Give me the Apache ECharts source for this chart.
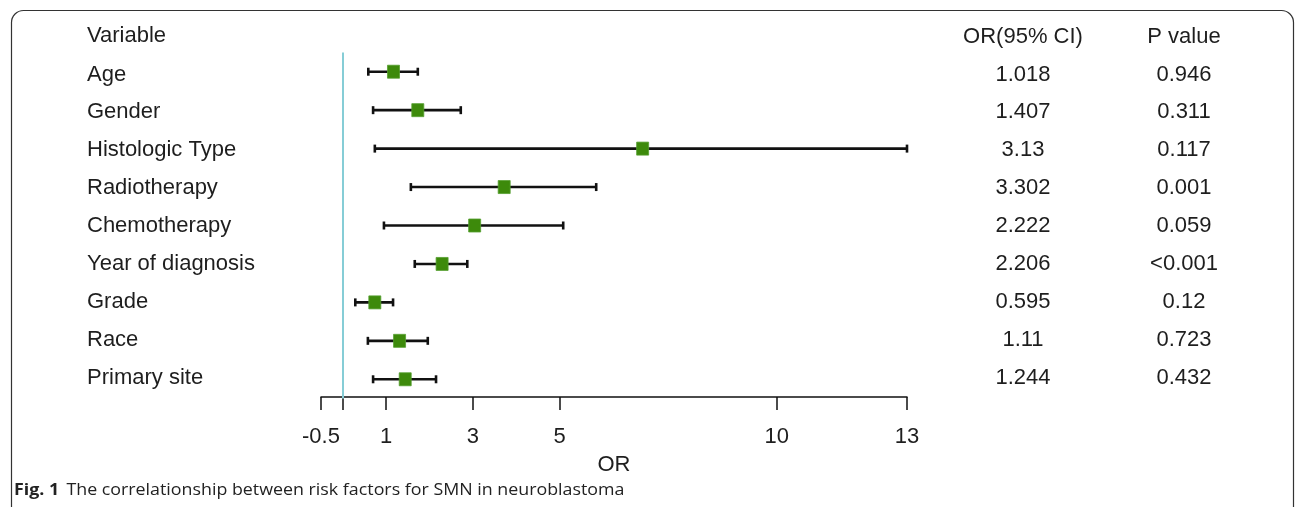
<!DOCTYPE html>
<html>
<head>
<meta charset="utf-8">
<script src="https://cdn.jsdelivr.net/npm/echarts@6/dist/echarts.min.js"></script>
<style>
html,body{margin:0;padding:0;background:#fff;}
#chart{width:1295px;height:507px;}
</style>
</head>
<body>
<div id="chart"></div>
<script>
const variables = ['Age','Gender','Histologic Type','Radiotherapy','Chemotherapy','Year of diagnosis','Grade','Race','Primary site'];
const pointOR = [1.17, 1.73, 6.91, 3.72, 3.04, 2.29, 0.74, 1.31, 1.44];
const lowerCI = [0.59, 0.70, 0.74, 1.57, 0.95, 1.66, 0.29, 0.58, 0.70];
const upperCI = [1.73, 2.72, 13.0, 5.84, 5.08, 2.87, 1.16, 1.96, 2.15];
const orText = ['1.018','1.407','3.13','3.302','2.222','2.206','0.595','1.11','1.244'];
const pText = ['0.946','0.311','0.117','0.001','0.059','<0.001','0.12','0.723','0.432'];
const xTicks = [-0.5, 0, 1, 3, 5, 10, 13];
const xTickLabels = ['-0.5', '', '1', '3', '5', '10', '13'];
const headers = ['Variable', 'OR(95% CI)', 'P value'];

const FONT = "'Liberation Sans', Arial, sans-serif";
const TXT = '#1e1e1e';
const FS = 22;

const chart = echarts.init(document.getElementById('chart'), null, {renderer: 'canvas'});

const errData = variables.map((v, i) => [lowerCI[i], upperCI[i], i]);
const ptData = variables.map((v, i) => [pointOR[i], i]);

const rowLabel = {fontFamily: FONT, fontSize: FS, color: TXT};
const hiddenAxisParts = {axisLine: {show: false}, axisTick: {show: false}, splitLine: {show: false}};

const option = {
  animation: false,
  backgroundColor: '#fff',
  grid: [
    {left: 321, width: 586, top: 52.5, height: 346, outerBoundsMode: 'none'},
    {left: 321, width: 586, top: 55.5, height: 341.6, outerBoundsMode: 'none'}
  ],
  xAxis: [
    {
      type: 'value', min: -0.5, max: 13, gridIndex: 0, offset: -1.5,
      name: 'OR', nameLocation: 'middle', nameGap: 57,
      nameTextStyle: {fontFamily: FONT, fontSize: FS, color: TXT},
      axisLine: {show: true, lineStyle: {color: '#111', width: 1.5}},
      axisTick: {show: true, customValues: xTicks, length: 13, lineStyle: {color: '#111', width: 1.5}},
      axisLabel: {
        customValues: xTicks, margin: 29,
        fontFamily: FONT, fontSize: FS, color: TXT,
        formatter: function (v) { const k = xTicks.indexOf(v); return k >= 0 ? xTickLabels[k] : ''; }
      },
      splitLine: {show: false}
    },
    {type: 'value', min: -0.5, max: 13, gridIndex: 1, show: false}
  ],
  yAxis: [
    Object.assign({type: 'category', data: variables, inverse: true, gridIndex: 0, axisLabel: {show: false}}, hiddenAxisParts),
    Object.assign({type: 'category', data: variables, inverse: true, gridIndex: 1, position: 'left',
      axisLabel: Object.assign({align: 'left', margin: 234}, rowLabel)}, hiddenAxisParts),
    Object.assign({type: 'category', data: variables, inverse: true, gridIndex: 1, position: 'right',
      axisLabel: Object.assign({align: 'center', margin: 116,
        formatter: function (v, i) { return orText[i]; }}, rowLabel)}, hiddenAxisParts),
    Object.assign({type: 'category', data: variables, inverse: true, gridIndex: 1, position: 'right', offset: 0,
      axisLabel: Object.assign({align: 'center', margin: 277,
        formatter: function (v, i) { return pText[i]; }}, rowLabel)}, hiddenAxisParts)
  ],
  series: [
    {
      type: 'custom',
      xAxisIndex: 0, yAxisIndex: 0,
      data: errData,
      encode: {x: [0, 1], y: 2},
      renderItem: function (params, api) {
        const idx = api.value(2);
        const p1 = api.coord([api.value(0), idx]);
        const p2 = api.coord([api.value(1), idx]);
        const h = 4;
        const st = {stroke: '#111', lineWidth: 2.6};
        return {
          type: 'group',
          children: [
            {type: 'line', shape: {x1: p1[0], y1: p1[1], x2: p2[0], y2: p2[1]}, style: st},
            {type: 'line', shape: {x1: p1[0], y1: p1[1] - h, x2: p1[0], y2: p1[1] + h}, style: st},
            {type: 'line', shape: {x1: p2[0], y1: p2[1] - h, x2: p2[0], y2: p2[1] + h}, style: st}
          ]
        };
      },
      z: 2
    },
    {
      type: 'scatter',
      xAxisIndex: 0, yAxisIndex: 0,
      data: ptData,
      symbol: 'rect',
      symbolSize: [12, 13],
      itemStyle: {color: '#3d8a0b', borderColor: '#56a030', borderWidth: 0.8, opacity: 1},
      z: 3,
      markLine: {
        silent: true, symbol: 'none', label: {show: false},
        lineStyle: {color: '#86cdd6', width: 2, type: 'solid'},
        data: [{xAxis: 0}]
      }
    }
  ],
  graphic: [
    {type: 'rect', shape: {x: 11.5, y: 10.5, width: 1282, height: 540, r: 12},
      style: {fill: 'none', stroke: '#333', lineWidth: 1.2}, silent: true, z: -1},
    {type: 'text', x: 87, y: 36, style: {text: headers[0], fontFamily: FONT, fontSize: FS, fill: TXT, verticalAlign: 'middle', align: 'left'}},
    {type: 'text', x: 1023, y: 37, style: {text: headers[1], fontFamily: FONT, fontSize: FS, fill: TXT, verticalAlign: 'middle', align: 'center'}},
    {type: 'text', x: 1184, y: 37, style: {text: headers[2], fontFamily: FONT, fontSize: FS, fill: TXT, verticalAlign: 'middle', align: 'center'}},
    {type: 'text', x: 14, y: 490, scaleX: 1.08, style: {
      text: '{b|Fig. 1}  {n|The correlationship between risk factors for SMN in neuroblastoma}',
      verticalAlign: 'middle', align: 'left',
      rich: {
        b: {fontFamily: "'Open Sans', sans-serif", fontWeight: 'bold', fontSize: 16.5, fill: '#222'},
        n: {fontFamily: "'Open Sans', sans-serif", fontSize: 16.5, fill: '#222'}
      }
    }}
  ]
};
chart.setOption(option);
</script>
</body>
</html>
